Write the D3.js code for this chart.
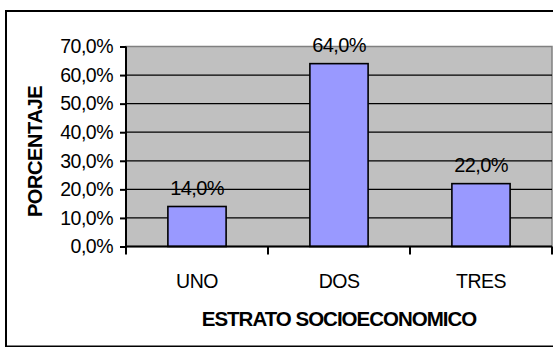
<!DOCTYPE html>
<html><head><meta charset="utf-8">
<script src="https://cdn.jsdelivr.net/npm/d3@7"></script>
<style>
body{margin:0;background:#fff;}
svg{display:block;font-family:Arial,"Liberation Sans",sans-serif;}
</style></head>
<body>
<script>
const categories = ["UNO", "DOS", "TRES"];
const values = [14.0, 64.0, 22.0];
const yTicks = [0, 10, 20, 30, 40, 50, 60, 70];
const xTitle = "ESTRATO SOCIOECONOMICO";
const yTitle = "PORCENTAJE";

const W = 553, H = 347;
const m = {left:126, top:46.5, right:552, bottom:246.5};
const fmt = v => v.toFixed(1).replace(".", ",") + "%";
const FF = 'Arial,"Liberation Sans",sans-serif';

const svg = d3.select("body").append("svg").attr("width", W).attr("height", H);

// outer frame
svg.append("rect").attr("x", 6).attr("y", 11).attr("width", 560).attr("height", 335.5)
  .attr("fill", "#fff").attr("stroke", "#000").attr("stroke-width", 2);

const x = d3.scaleBand().domain(categories).range([m.left, m.right]).paddingInner(0.59).paddingOuter(0.295);
const xb = d3.scaleBand().domain(categories).range([m.left, m.right]);
const y = d3.scaleLinear().domain([0, 70]).range([m.bottom, m.top]);

// plot area
svg.append("rect").attr("x", m.left).attr("y", m.top).attr("width", m.right - m.left).attr("height", m.bottom - m.top)
  .attr("fill", "#C0C0C0").attr("stroke", "#808080").attr("stroke-width", 1.5);

// gridlines
svg.append("g").selectAll("line").data(yTicks.filter(d => d > 0 && d < 70)).join("line")
  .attr("x1", m.left).attr("x2", m.right).attr("y1", d => y(d)).attr("y2", d => y(d))
  .attr("stroke", "#000").attr("stroke-width", 1.2);

// bars
svg.append("g").selectAll("rect").data(values).join("rect")
  .attr("x", (d, i) => x(categories[i])).attr("width", x.bandwidth())
  .attr("y", d => y(d)).attr("height", d => y(0) - y(d))
  .attr("fill", "#9999FF").attr("stroke", "#000").attr("stroke-width", 1.6);

// data labels
svg.append("g").selectAll("text").data(values).join("text")
  .attr("x", (d, i) => x(categories[i]) + x.bandwidth() / 2).attr("y", d => y(d) - 12)
  .attr("text-anchor", "middle").attr("font-size", 20).attr("letter-spacing", -0.6)
  .attr("fill", "#000").text(d => fmt(d));

// y axis
const ya = svg.append("g").attr("transform", `translate(${m.left},0)`)
  .call(d3.axisLeft(y).tickValues(yTicks).tickSize(6).tickPadding(7).tickFormat(fmt));
ya.select(".domain").attr("stroke", "#000").attr("stroke-width", 2).attr("d", `M0,${m.top}V${m.bottom}`);
ya.selectAll(".tick line").attr("stroke", "#000").attr("stroke-width", 2);
ya.selectAll("text").attr("font-size", 19.5).attr("letter-spacing", -0.5).attr("fill", "#000")
  .attr("font-family", FF);

// x axis
const xa = svg.append("g").attr("transform", `translate(0,${m.bottom})`)
  .call(d3.axisBottom(xb).tickSize(0).tickPadding(30));
xa.select(".domain").remove();
svg.append("line").attr("x1", m.left).attr("x2", m.right).attr("y1", m.bottom).attr("y2", m.bottom)
  .attr("stroke", "#000").attr("stroke-width", 2);
svg.append("g").selectAll("line").data(categories.concat(["end"])).join("line")
  .attr("x1", (d, i) => i < categories.length ? xb(d) : m.right)
  .attr("x2", (d, i) => i < categories.length ? xb(d) : m.right)
  .attr("y1", m.bottom).attr("y2", m.bottom + 8).attr("stroke", "#000").attr("stroke-width", 2);
xa.selectAll("text").attr("font-size", 19.5).attr("letter-spacing", -0.5).attr("fill", "#000")
  .attr("font-family", FF).attr("dy", null).attr("y", 41);

// axis titles
svg.append("text").attr("x", (m.left + m.right) / 2).attr("y", 325.5)
  .attr("text-anchor", "middle").attr("font-size", 20.5).attr("font-weight", "bold").attr("letter-spacing", -1)
  .text(xTitle);
svg.append("text").attr("transform", `translate(42,151.5) rotate(-90)`)
  .attr("text-anchor", "middle").attr("font-size", 20).attr("font-weight", "bold").attr("letter-spacing", -0.4)
  .text(yTitle);
</script>
</body></html>
